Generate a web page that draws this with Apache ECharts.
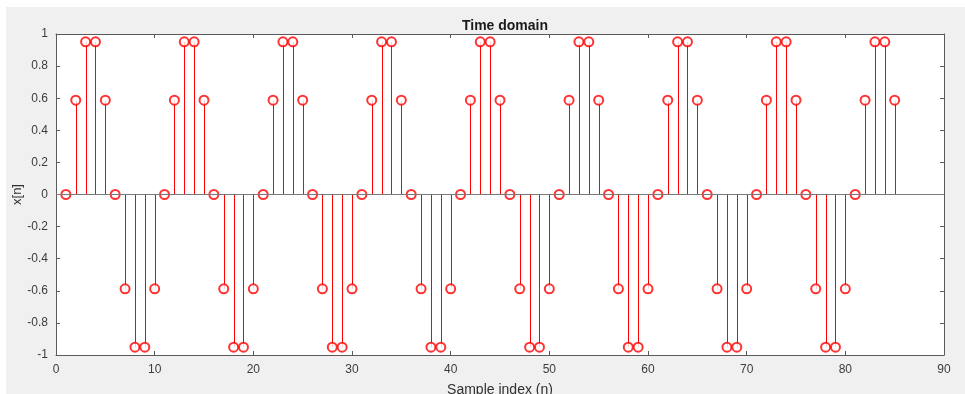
<!DOCTYPE html>
<html>
<head>
<meta charset="utf-8">
<script src="https://cdn.jsdelivr.net/npm/echarts@6/dist/echarts.min.js"></script>
<style>
  html, body { margin: 0; padding: 0; background: #ffffff; }
  #frame { position: absolute; left: 6px; top: 7px; width: 959px; height: 387px; background: #f0f0f0; }
  #chart { position: absolute; left: 0; top: 0; width: 965px; height: 394px; }
</style>
</head>
<body>
<div id="frame"></div>
<div id="chart"></div>
<script>
// Sample indices n = 1..85
const sampleIndex = [
  1, 2, 3, 4, 5, 6, 7, 8, 9, 10,
  11, 12, 13, 14, 15, 16, 17, 18, 19, 20,
  21, 22, 23, 24, 25, 26, 27, 28, 29, 30,
  31, 32, 33, 34, 35, 36, 37, 38, 39, 40,
  41, 42, 43, 44, 45, 46, 47, 48, 49, 50,
  51, 52, 53, 54, 55, 56, 57, 58, 59, 60,
  61, 62, 63, 64, 65, 66, 67, 68, 69, 70,
  71, 72, 73, 74, 75, 76, 77, 78, 79, 80,
  81, 82, 83, 84, 85
];

// Signal samples x[n]
const signal = [
  0, 0.5878, 0.9511, 0.9511, 0.5878, 0, -0.5878, -0.9511, -0.9511, -0.5878,
  0, 0.5878, 0.9511, 0.9511, 0.5878, 0, -0.5878, -0.9511, -0.9511, -0.5878,
  0, 0.5878, 0.9511, 0.9511, 0.5878, 0, -0.5878, -0.9511, -0.9511, -0.5878,
  0, 0.5878, 0.9511, 0.9511, 0.5878, 0, -0.5878, -0.9511, -0.9511, -0.5878,
  0, 0.5878, 0.9511, 0.9511, 0.5878, 0, -0.5878, -0.9511, -0.9511, -0.5878,
  0, 0.5878, 0.9511, 0.9511, 0.5878, 0, -0.5878, -0.9511, -0.9511, -0.5878,
  0, 0.5878, 0.9511, 0.9511, 0.5878, 0, -0.5878, -0.9511, -0.9511, -0.5878,
  0, 0.5878, 0.9511, 0.9511, 0.5878, 0, -0.5878, -0.9511, -0.9511, -0.5878,
  0, 0.5878, 0.9511, 0.9511, 0.5878
];

const xTicks = { min: 0, max: 90, step: 10 };
const yTicks = { min: -1, max: 1, step: 0.2 };

const points = sampleIndex.map((n, i) => [n, signal[i]]);

const fontFamily = '"Liberation Sans", Arial, Helvetica, sans-serif';
const boxColor = '#5a5a5a';
const labelColor = '#3c3c3c';
const stemColor = '#ff0000';

const chart = echarts.init(document.getElementById('chart'), null, { renderer: 'canvas' });

const axisCommon = () => ({
  axisLine: { show: true, onZero: false, lineStyle: { color: boxColor, width: 1 } },
  axisTick: { show: true, inside: true, length: 4, lineStyle: { color: boxColor } },
  splitLine: { show: false }
});

chart.setOption({
  backgroundColor: 'transparent',
  animation: false,
  color: [stemColor],
  title: {
    text: 'Time domain',
    left: 500,
    top: 14,
    textAlign: 'center',
    textStyle: { fontFamily, fontSize: 14, fontWeight: 'bold', color: '#1a1a1a' }
  },
  grid: {
    left: 56, right: 21, top: 34, bottom: 39,
    outerBoundsMode: 'none', containLabel: false,
    backgroundColor: '#ffffff', show: true, borderWidth: 0
  },
  xAxis: [
    Object.assign({
      type: 'value', position: 'bottom',
      min: xTicks.min, max: xTicks.max, interval: xTicks.step,
      name: 'Sample index (n)', nameLocation: 'middle', nameGap: 28,
      nameMoveOverlap: false,
      nameTextStyle: { fontFamily, fontSize: 14, color: '#303030' },
      axisLabel: { fontFamily, fontSize: 12, color: labelColor, margin: 9 }
    }, axisCommon()),
    Object.assign({
      type: 'value', position: 'top',
      min: xTicks.min, max: xTicks.max, interval: xTicks.step,
      axisLabel: { show: false }
    }, axisCommon())
  ],
  yAxis: [
    Object.assign({
      type: 'value', position: 'left',
      min: yTicks.min, max: yTicks.max, interval: yTicks.step,
      name: 'x[n]', nameLocation: 'middle', nameGap: 32,
      nameMoveOverlap: false,
      nameTextStyle: { fontFamily, fontSize: 13, color: '#303030' },
      axisLabel: {
        fontFamily, fontSize: 12, color: labelColor, margin: 8,
        formatter: v => String(Math.round(v * 10) / 10)
      }
    }, axisCommon()),
    Object.assign({
      type: 'value', position: 'right',
      min: yTicks.min, max: yTicks.max, interval: yTicks.step,
      axisLabel: { show: false }
    }, axisCommon())
  ],
  series: [
    {
      // stems from the baseline to each sample, drawn as 1px filled rects
      type: 'custom',
      xAxisIndex: 0, yAxisIndex: 0,
      data: points,
      itemStyle: { color: stemColor },
      renderItem: (params, api) => {
        const p0 = api.coord([api.value(0), 0]);
        const p1 = api.coord([api.value(0), api.value(1)]);
        const x = Math.round(p0[0]);
        const top = Math.min(p0[1], p1[1]);
        const h = Math.abs(p1[1] - p0[1]);
        return {
          type: 'rect',
          shape: { x: x, y: top, width: 1, height: h },
          style: { fill: stemColor, stroke: null }
        };
      },
      markLine: {
        silent: true,
        symbol: ['none', 'none'],
        label: { show: false },
        lineStyle: { color: '#7a7a7a', width: 1, type: 'solid' },
        data: [{ yAxis: 0 }]
      },
      z: 2
    },
    {
      // open circle markers at each sample
      type: 'scatter',
      xAxisIndex: 0, yAxisIndex: 0,
      data: points,
      symbol: 'emptyCircle',
      symbolSize: 9,
      itemStyle: { color: stemColor, borderColor: stemColor, borderWidth: 1 },
      z: 3
    }
  ]
});
</script>
</body>
</html>
